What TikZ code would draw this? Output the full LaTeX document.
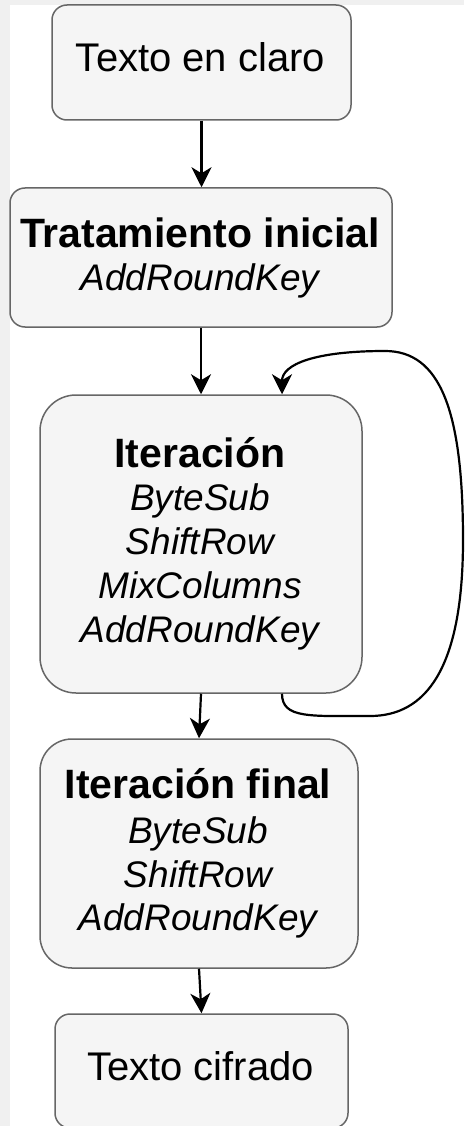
\documentclass[tikz,border=0pt]{standalone}
\usepackage{fontspec}
\setmainfont{Liberation Sans}
\usetikzlibrary{arrows.meta,calc}
\definecolor{pagegray}{HTML}{F0F0F0}
\definecolor{boxfill}{HTML}{F5F5F5}
\definecolor{boxline}{HTML}{666666}

\begin{document}
\begin{tikzpicture}[x=1pt,y=-1pt,
  stage/.style={draw=boxline, fill=boxfill, line width=1.5pt,
                rounded corners=#1, inner sep=0pt},
  stage/.default=15pt,
  txt/.style={anchor=base, inner sep=0pt, font=\fontsize{40}{48}\selectfont},
  ttl/.style={txt, font=\fontsize{41}{48}\selectfont\bfseries},
  op/.style={txt, font=\fontsize{37}{44}\selectfont\itshape},
  flow/.style={draw=black, line width=2.2pt,
               -{Stealth[length=20pt,width=20pt,inset=6pt]}}
]
% page background with a light margin on the top and left
\fill[pagegray] (0,0) rectangle (464,1126);
\fill[white] (10,5) rectangle (464,1126);
\useasboundingbox (0,0) rectangle (464,1126);

% stage boxes
\node[stage, minimum width=299pt, minimum height=115pt] (b1) at (201.5,62.5) {};
\node[stage, minimum width=382pt, minimum height=139pt] (b2) at (201,257.5) {};
\node[stage=36pt, minimum width=322pt, minimum height=298pt] (b3) at (201,544) {};
\node[stage=32pt, minimum width=318pt, minimum height=229pt] (b4) at (199,853.5) {};
\node[stage, minimum width=293pt, minimum height=114pt] (b5) at (201.5,1071) {};

% labels
\node[txt] (t1) at (200.5,72) {Texto en claro};

\node[ttl] (t2a) at (200,247) {Tratamiento inicial};
\node[op]  (t2b) at (200,290) {AddRoundKey};

\node[ttl] (t3a) at (200,467) {Iteración};
\node[op]  (t3b) at (200,510) {ByteSub};
\node[op]  (t3c) at (200,554) {ShiftRow};
\node[op]  (t3d) at (200,598) {MixColumns};
\node[op]  (t3e) at (200,642) {AddRoundKey};

\node[ttl] (t4a) at (198,798) {Iteración final};
\node[op]  (t4b) at (198,843) {ByteSub};
\node[op]  (t4c) at (198,887) {ShiftRow};
\node[op]  (t4d) at (198,930) {AddRoundKey};

\node[txt] (t5) at (200.5,1080) {Texto cifrado};

% straight flow
\draw[flow] (b1.south) -- (b1.south |- b2.north);
\draw[flow] (b2.south) -- (b2.south |- b3.north);
\draw[flow] (b3.south) -- (b4.north);
\draw[flow] (b4.south) -- (b5.north);

% repeated rounds loop
\coordinate (loopbot) at (370,716);
\coordinate (loopright) at (463,540);
\coordinate (looptop) at (385,351);
\draw[flow] ([xshift=81pt]b3.south)
  .. controls +(0,25) and +(-60,0) .. (loopbot)
  .. controls +(55,0) and +(0,130) .. (loopright)
  .. controls +(0,-130) and +(55,0) .. (looptop)
  .. controls +(-70,0) and +(0,-30) .. ([xshift=81pt]b3.north);
\end{tikzpicture}
\end{document}
